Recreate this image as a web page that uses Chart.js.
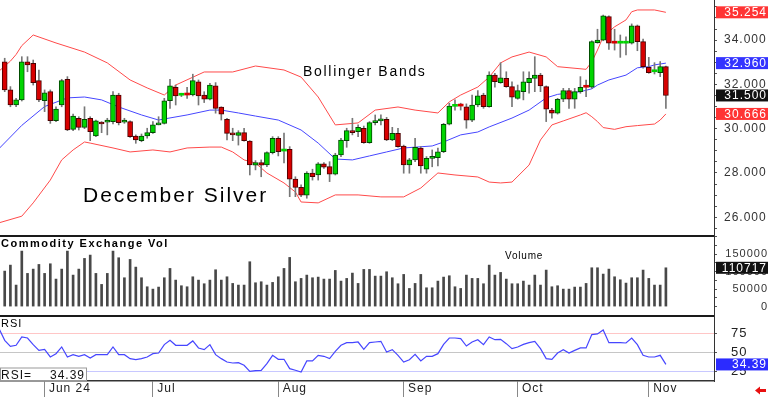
<!DOCTYPE html>
<html>
<head>
<meta charset="utf-8">
<script src="https://cdn.jsdelivr.net/npm/chart.js@4.4.1/dist/chart.umd.min.js"></script>
<style>
  html, body { margin: 0; padding: 0; background: #fff; width: 768px; height: 397px; overflow: hidden; }
  canvas { position: absolute; left: 0; }
  #price { top: 0; }
  #vol { top: 235px; }
  #rsi { top: 315px; }
</style>
</head>
<body>
<canvas id="price" width="768" height="235"></canvas>
<canvas id="vol" width="768" height="80"></canvas>
<canvas id="rsi" width="768" height="82"></canvas>
<script>
// trading days: index 0 = May 22, last = Nov 6
const monthIdx = [7, 26, 48, 70, 90, 113];
const monthLabels = ['Jun 24', 'Jul', 'Aug', 'Sep', 'Oct', 'Nov'];

const opens = [33.02,31.75,31.07,31.30,33.02,32.95,32.17,31.26,31.67,30.36,
  31.07,32.23,29.97,30.47,30.06,30.47,29.67,30.29,30.29,30.32,
  31.52,30.29,30.32,29.67,29.46,29.67,29.82,30.17,30.24,31.26,
  31.87,31.51,31.53,31.52,32.12,31.52,31.33,31.93,30.97,30.42,
  29.79,29.70,29.82,29.44,28.35,28.47,28.36,28.92,29.57,28.99,
  29.07,27.72,27.35,27.00,27.99,27.91,28.41,28.29,27.95,28.81,
  29.46,29.91,29.86,30.02,29.37,30.27,30.35,30.42,29.49,29.79,
  29.22,28.36,28.59,29.12,28.17,28.66,28.69,28.96,30.20,31.01,
  31.03,30.99,30.39,31.07,31.52,30.99,32.42,32.08,32.27,31.90,
  31.37,31.67,32.08,32.27,32.42,31.90,30.84,30.70,31.33,31.72,
  31.33,31.67,31.88,31.87,33.88,34.00,35.06,33.87,33.86,33.86,
  33.86,34.64,33.93,32.77,32.57,32.53,32.80];
const highs = [33.18,31.90,31.37,33.25,33.25,33.10,32.65,31.75,31.75,30.99,
  32.23,32.35,30.66,30.54,30.99,30.54,30.39,30.32,30.47,31.67,
  31.60,30.47,30.35,29.72,29.76,30.02,30.32,30.54,31.37,32.23,
  31.97,31.60,31.87,32.46,32.20,31.67,32.05,32.08,30.99,30.47,
  30.02,29.91,30.02,29.46,28.56,28.59,28.96,29.64,29.64,29.80,
  29.19,27.83,27.46,28.06,28.17,28.47,28.47,28.51,28.89,29.57,
  30.02,30.47,30.17,30.12,30.32,30.62,30.62,30.51,30.06,30.02,
  29.26,28.66,29.57,29.19,28.74,29.04,29.12,30.24,31.15,31.30,
  31.15,31.12,31.52,31.72,31.60,32.57,32.50,32.98,32.57,32.12,
  31.97,32.57,32.57,33.25,32.50,31.93,30.92,31.37,31.82,31.82,
  31.82,32.35,32.20,33.97,34.49,35.13,35.09,34.49,34.23,34.15,
  34.73,34.68,34.04,33.22,32.98,33.03,32.83];
const lows = [31.67,30.99,30.99,31.25,32.57,31.97,31.22,30.77,30.24,30.32,
  30.99,29.91,29.91,29.94,30.00,29.46,29.64,29.82,29.72,30.21,
  30.17,30.24,29.61,29.34,29.41,29.57,29.79,30.17,30.21,30.92,
  31.07,31.45,31.37,31.48,31.07,31.18,31.30,30.70,30.39,29.49,
  29.46,29.26,29.44,27.91,28.14,27.83,28.28,28.86,28.77,28.45,
  26.93,26.93,26.93,26.86,27.68,27.68,28.21,27.61,27.91,28.74,
  29.16,29.72,29.64,29.34,29.34,30.17,30.17,29.46,29.46,29.16,
  27.99,27.99,28.51,27.99,27.99,28.28,28.32,28.92,30.17,30.84,
  30.84,30.02,30.32,30.99,30.92,30.97,31.87,32.05,31.87,30.99,
  31.33,31.30,31.60,31.67,31.67,30.32,30.47,30.66,31.22,30.92,
  30.92,31.60,31.44,31.82,33.86,33.97,33.58,33.55,33.22,33.33,
  33.82,33.52,32.73,32.50,32.47,32.35,30.92];
const closes = [31.75,31.07,31.30,33.02,32.88,32.08,31.30,31.62,30.36,30.88,
  32.17,29.94,30.57,30.06,30.42,29.86,30.35,30.21,30.39,31.52,
  30.27,30.39,29.64,29.49,29.67,29.82,30.17,30.24,31.26,31.93,
  31.48,31.52,31.52,32.17,31.48,31.33,31.97,30.92,30.66,29.79,
  29.72,29.82,29.46,28.36,28.47,28.35,28.92,29.57,28.96,29.00,
  27.72,27.35,27.00,27.99,27.83,28.41,28.26,27.95,28.81,29.49,
  29.91,29.82,30.06,29.37,30.27,30.36,30.42,29.49,29.79,29.19,
  28.36,28.59,29.16,28.32,28.66,28.74,28.96,30.20,31.02,31.03,
  31.02,30.39,31.07,31.48,30.99,32.42,32.12,32.30,31.90,31.42,
  31.72,32.12,32.27,32.42,31.93,30.88,30.70,31.33,31.72,31.33,
  31.67,31.87,31.87,33.93,34.00,35.09,33.86,33.86,33.87,33.87,
  34.64,33.93,32.80,32.53,32.58,32.80,31.50];

// Bollinger bands (day index, price)
const upperIdx = [-1,1,2,3,5,9,14,18,22,25,28,30,35,40,44,49,52,55,58,62,65,69,72,76,78,80,83,85,87,89,92,95,97,102,103,104,105,106,107,109,110,111,114,116];
const upperVal = [32.60,33.05,33.35,33.75,34.23,33.87,33.46,32.97,32.20,31.84,31.52,31.97,32.56,32.56,32.83,32.65,32.33,31.43,30.17,30.26,30.84,30.98,30.84,30.71,31.21,31.52,31.88,32.33,32.97,33.24,33.46,33.24,32.80,32.68,33.02,33.55,34.15,34.38,34.60,34.91,35.28,35.36,35.36,35.254];
const midIdx = [-1,3,7,11,14,17,20,24,27,28,32,36,38,41,44,48,52,55,58,61,64,67,70,75,77,80,83,85,89,92,95,97,101,103,104,106,109,111,113,114,116];
const midVal = [29.10,30.15,31.00,31.39,31.43,31.30,30.98,30.62,30.39,30.44,30.62,30.84,30.84,30.71,30.57,30.39,29.94,29.35,28.63,28.59,28.77,28.95,29.13,29.22,29.40,29.72,29.85,30.08,30.48,30.84,31.39,31.55,31.67,31.80,31.97,32.20,32.42,32.75,32.80,32.88,32.96];
const lowIdx = [-1,3,5,8,10,12,14,15,19,22,26,29,32,36,38,40,42,44,46,49,51,52,55,58,62,66,70,73,76,79,83,85,87,89,92,94,96,98,101,102,103,104,105,107,109,111,114,115,116];
const lowVal = [25.75,26.05,26.65,27.68,28.59,29.04,29.40,29.35,29.13,28.95,29.04,28.95,29.13,29.17,29.17,28.95,28.59,28.45,28.00,27.55,27.14,26.69,26.65,27.01,27.01,26.92,26.92,27.32,28.00,27.91,27.82,27.59,27.55,27.59,28.36,29.49,30.17,30.35,30.62,30.72,30.54,30.32,30.05,29.97,30.09,30.14,30.21,30.39,30.666];

const volumes = [101300,118400,61400,158400,94700,107000,120300,94700,122200,78500,
  107000,158400,89900,107000,137500,147000,94700,63300,94700,158400,
  139400,82300,134600,112700,82300,56600,49900,55700,82300,108900,
  75600,59500,56600,85100,75600,65200,75600,105100,75600,85100,
  66100,61400,61400,128000,68000,70900,61400,69000,85100,108900,
  140300,70900,80400,89900,82300,84200,78500,78500,103200,72800,
  80400,95600,66100,106100,106100,87000,87000,
  99400,82300,65200,91800,51800,66100,91800,53700,53700,72800,
  84200,88000,56600,51800,89900,80400,80400,65200,118400,89900,
  97500,78500,65200,65200,72800,61400,89900,61400,104200,56600,
  59500,49900,49900,55700,55700,66100,110800,110800,92800,107000,
  85100,76600,67100,82300,82300,104200,80400,61400,61400,110717];

// RSI starts one day before the first candle (line enters from the left edge)
const rsiFirstDay = -1;
const rsiValues = [82,
  66.4,58.5,59.8,70.9,69.5,60.7,53.1,54.5,44.3,48.7,
  57.6,44.3,47.4,45.2,47.4,43.0,47.4,47.4,47.4,57.6,
  47.4,47.4,42.1,40.7,42.1,44.3,48.7,49.6,60.7,66.4,
  59.8,59.8,59.8,65.6,56.3,54.0,60.7,47.4,42.1,37.6,
  36.3,36.7,33.2,25.2,26.1,26.6,35.4,46.5,41.2,41.2,
  28.8,26.6,24.3,39.0,39.0,46.5,45.2,42.1,51.8,59.8,
  63.3,63.3,64.2,54.5,63.3,64.2,65.1,
  50.9,54.0,46.5,37.6,40.7,47.8,39.0,45.2,45.2,48.7,
  61.1,69.5,69.5,68.7,58.9,64.2,67.3,60.7,70.9,67.3,
  67.8,62.0,55.4,57.6,61.1,63.3,65.1,55.4,42.1,41.2,
  49.6,54.0,49.6,53.1,56.3,56.3,74.0,74.9,80.2,63.3,
  63.3,63.3,62.9,69.5,60.7,46.5,44.3,44.3,46.5,34.39];

const priceTicks = [26, 28, 30, 32, 34];
const volTicks = [0, 50000, 100000, 150000];
const rsiTicks = [25, 50, 75];

Chart.defaults.font.family = "'Liberation Sans', Arial, sans-serif";
Chart.defaults.color = '#222';

const X_MIN = -0.825, X_MAX = 124.44;
const up = i => closes[i] >= opens[i];
const doji = i => Math.abs(closes[i] - opens[i]) < 0.02;

// captions, value badges and frame pieces drawn over each pane
function overlay(cfg) {
  return {
    id: 'overlay',
    beforeLayout(chart) { chart.ctx.letterSpacing = '1px'; },
    beforeDraw(chart) { chart.ctx.letterSpacing = '1px'; },
    afterDraw(chart) {
      const { ctx, chartArea } = chart;
      ctx.save();
      if (cfg.topRule) {
        ctx.fillStyle = '#1a1a1a';
        ctx.fillRect(0, 0, chartArea.right, cfg.topRule);
      }
      ctx.textBaseline = 'alphabetic';
      (cfg.captions || []).forEach(c => {
        ctx.font = c.font;
        ctx.letterSpacing = c.spacing;
        ctx.fillStyle = '#000';
        ctx.textAlign = 'left';
        ctx.fillText(c.text, c.x, c.y);
      });
      if (cfg.box) {
        const b = cfg.box;
        ctx.fillStyle = '#fff';
        ctx.fillRect(0, b.y, b.w, b.h);
        ctx.strokeStyle = '#999';
        ctx.lineWidth = 1;
        ctx.strokeRect(0.5, b.y + 0.5, b.w, b.h);
        ctx.font = '12px "Liberation Sans"';
        ctx.letterSpacing = '1px';
        ctx.fillStyle = '#111';
        ctx.textAlign = 'left';
        ctx.fillText(b.label, 1, b.y + 11);
        ctx.textAlign = 'right';
        ctx.fillText(b.text, b.w - 1, b.y + 11);
      }
      const ys = chart.scales.y;
      (cfg.badges || []).forEach(b => {
        const y = ys.getPixelForValue(b.value);
        ctx.fillStyle = b.bg;
        ctx.fillRect(716, y - 6, 52, 12);
        ctx.font = '12px "Liberation Sans"';
        ctx.letterSpacing = '1px';
        ctx.fillStyle = '#fff';
        ctx.textAlign = 'right';
        ctx.textBaseline = 'middle';
        ctx.fillText(b.text, 767, y + 0.5);
      });
      if (cfg.arrow) {
        const a = cfg.arrow;
        ctx.fillStyle = '#e81010';
        ctx.beginPath();
        ctx.moveTo(a.x, a.y);
        ctx.lineTo(a.x + 5, a.y - 4);
        ctx.lineTo(a.x + 5, a.y - 1.5);
        ctx.lineTo(a.x + 11, a.y - 1.5);
        ctx.lineTo(a.x + 11, a.y + 1.5);
        ctx.lineTo(a.x + 5, a.y + 1.5);
        ctx.lineTo(a.x + 5, a.y + 4);
        ctx.closePath();
        ctx.fill();
      }
      ctx.restore();
    }
  };
}

const hiddenX = { type: 'linear', min: X_MIN, max: X_MAX, offset: false, display: false };
function rightAxis(extra) {
  return Object.assign({
    position: 'right',
    afterFit: ax => { ax.width = 54; ax.paddingTop = 0; ax.paddingBottom = 0; },
    grid: { drawOnChartArea: false, tickLength: 3, color: '#555' },
    border: { color: '#333', width: 1 }
  }, extra);
}
const base = {
  responsive: false, animation: false, devicePixelRatio: 1, events: [],
  layout: { padding: 0 },
  plugins: { legend: { display: false }, tooltip: { enabled: false } }
};
const line = (pts, color) => ({
  type: 'line', data: pts, borderColor: color, borderWidth: 1,
  pointRadius: 0, tension: 0, order: 2
});
const pairs = (idx, vals) => idx.map((x, k) => ({ x, y: vals[k] }));

// price pane
new Chart('price', {
  type: 'bar',
  data: {
    datasets: [
      {
        data: opens.map((o, i) => ({ x: i, y: [o, closes[i]] })),
        backgroundColor: opens.map((o, i) => up(i) ? '#00d400' : '#d80000'),
        borderColor: opens.map((o, i) => up(i) ? '#004a00' : '#4a0000'),
        borderWidth: opens.map((o, i) => doji(i) ? 0 : 1),
        borderSkipped: false, barThickness: 5, minBarLength: 2, grouped: false, order: 0
      },
      {
        data: highs.map((h, i) => ({ x: i, y: [lows[i], h] })),
        backgroundColor: '#777', barThickness: 1, grouped: false, order: 1
      },
      line(pairs(upperIdx, upperVal), '#ff4a4a'),
      line(pairs(midIdx, midVal), '#4646ff'),
      line(pairs(lowIdx, lowVal), '#ff4a4a')
    ]
  },
  options: Object.assign({}, base, {
    scales: {
      x: hiddenX,
      y: rightAxis({
        min: 25.2, max: 35.81,
        afterBuildTicks: ax => {
          const t = [];
          for (let v = 25.5; v <= 35.5; v += 0.5) t.push({ value: v });
          ax.ticks = t;
        },
        ticks: {
          autoSkip: false, crossAlign: 'near', padding: 7, font: { size: 12 }, color: '#333',
          callback: v => priceTicks.includes(v) ? v.toFixed(3) : ''
        }
      })
    }
  }),
  plugins: [overlay({
    captions: [
      { text: 'December Silver', x: 83, y: 202, font: '21px "Liberation Sans"', spacing: '2px' },
      { text: 'Bollinger Bands', x: 303, y: 76, font: '14px "Liberation Sans"', spacing: '1.7px' }
    ],
    badges: [
      { value: upperVal[upperVal.length - 1], text: upperVal[upperVal.length - 1].toFixed(3), bg: '#ff3434' },
      { value: midVal[midVal.length - 1], text: midVal[midVal.length - 1].toFixed(3), bg: '#3434ff' },
      { value: closes[closes.length - 1], text: closes[closes.length - 1].toFixed(3), bg: '#111' },
      { value: lowVal[lowVal.length - 1], text: lowVal[lowVal.length - 1].toFixed(3), bg: '#ff3434' }
    ]
  })]
});

// volume pane
new Chart('vol', {
  type: 'bar',
  data: {
    datasets: [{
      data: volumes.map((v, i) => ({ x: i, y: v })),
      backgroundColor: '#484848', barThickness: 2, grouped: false
    }]
  },
  options: Object.assign({}, base, {
    scales: {
      x: hiddenX,
      y: rightAxis({
        min: -24000, max: 204300,
        afterBuildTicks: ax => {
          const t = [];
          for (let v = 0; v <= 200000; v += 25000) t.push({ value: v });
          ax.ticks = t;
        },
        ticks: {
          autoSkip: false, crossAlign: 'far', padding: 3, font: { size: 11 }, color: '#333',
          callback: v => volTicks.includes(v) ? String(v) : ''
        }
      })
    }
  }),
  plugins: [overlay({
    topRule: 2,
    captions: [
      { text: 'Commodity Exchange Vol', x: 1, y: 12, font: 'bold 11px "Liberation Sans"', spacing: '1.5px' },
      { text: 'Volume', x: 505, y: 23.5, font: '10px "Liberation Sans"', spacing: '0.8px' }
    ],
    badges: [{ value: volumes[volumes.length - 1], text: String(volumes[volumes.length - 1]), bg: '#111' }]
  })]
});

// RSI pane
const rsiGrid = { 75: '#ffc6c6', 50: '#c6c6c6', 25: '#c8c8ff' };
const rsiLast = rsiValues[rsiValues.length - 1];
new Chart('rsi', {
  type: 'line',
  data: {
    datasets: [{
      data: rsiValues.map((v, k) => ({ x: k + rsiFirstDay, y: v })),
      borderColor: '#4646ff', borderWidth: 1.2, pointRadius: 0, tension: 0
    }]
  },
  options: Object.assign({}, base, {
    scales: {
      x: {
        type: 'linear', min: X_MIN, max: X_MAX, offset: false,
        afterBuildTicks: ax => { ax.ticks = monthIdx.map(v => ({ value: v })); },
        afterFit: ax => { ax.height = 16; ax.paddingLeft = 0; ax.paddingRight = 0; },
        ticks: {
          autoSkip: false, maxRotation: 0, align: 'start', padding: -16,
          font: { size: 12 }, color: '#222',
          callback: (v, i) => ' ' + monthLabels[i]
        },
        grid: { drawOnChartArea: false, tickLength: 16, color: '#888' },
        border: { color: '#333', width: 1.5 }
      },
      y: rightAxis({
        min: 12.37, max: 100.1,
        afterBuildTicks: ax => { ax.ticks = rsiTicks.map(v => ({ value: v })); },
        ticks: { autoSkip: false, crossAlign: 'near', padding: 14, font: { size: 13 }, color: '#222' },
        grid: {
          drawOnChartArea: true, tickLength: 3, tickColor: '#555',
          color: c => rsiGrid[c.tick && c.tick.value] || '#ccc'
        }
      })
    }
  }),
  plugins: [overlay({
    topRule: 2,
    captions: [{ text: 'RSI', x: 1, y: 12, font: '11px "Liberation Sans"', spacing: '1px' }],
    box: { y: 52.5, w: 86, h: 13, label: 'RSI=', text: rsiLast.toFixed(2) },
    badges: [{ value: rsiLast, text: rsiLast.toFixed(2), bg: '#2b2bff' }],
    arrow: { x: 755, y: 75.5 }
  })]
});
</script>
</body>
</html>
